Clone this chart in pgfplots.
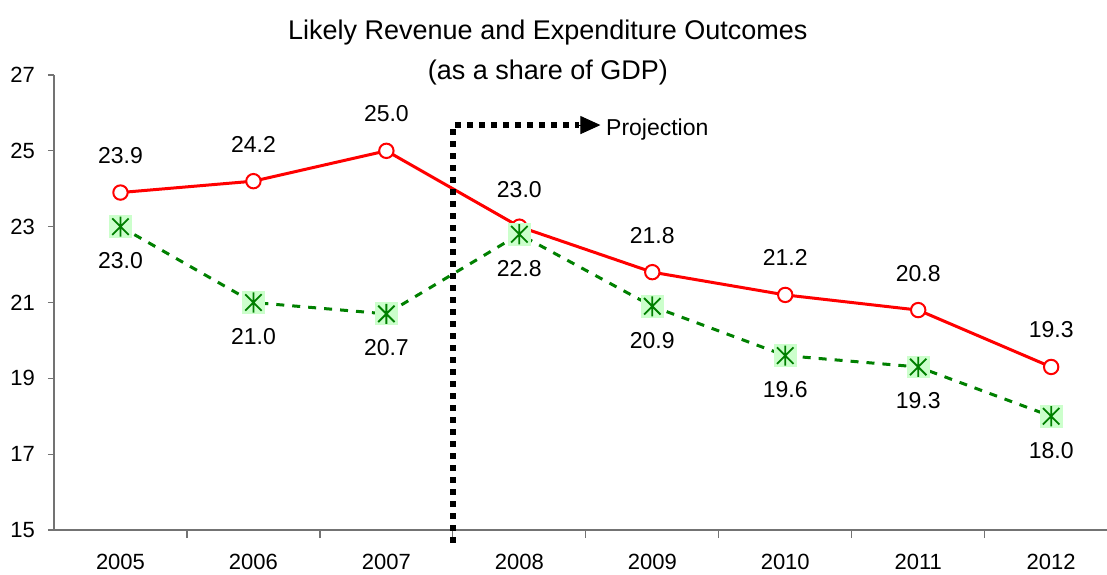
\documentclass[border=0pt]{standalone}
\usepackage{fontspec}
\setmainfont{Liberation Sans}
\usepackage{pgfplots}
\pgfplotsset{compat=1.18}
\usetikzlibrary{arrows.meta}
\definecolor{redl}{RGB}{255,0,0}
\definecolor{greenl}{RGB}{0,128,0}
\definecolor{mkfill}{RGB}{204,255,204}
\pgfdeclareplotmark{boxstar}{%
  \pgfpathrectangle{\pgfpoint{-\pgfplotmarksize}{-\pgfplotmarksize}}{\pgfpoint{2\pgfplotmarksize}{2\pgfplotmarksize}}%
  \pgfsetfillcolor{mkfill}\pgfusepathqfill
  \pgfpathmoveto{\pgfpoint{0pt}{-0.88\pgfplotmarksize}}\pgfpathlineto{\pgfpoint{0pt}{0.88\pgfplotmarksize}}%
  \pgfpathmoveto{\pgfpoint{-0.72\pgfplotmarksize}{-0.72\pgfplotmarksize}}\pgfpathlineto{\pgfpoint{0.72\pgfplotmarksize}{0.72\pgfplotmarksize}}%
  \pgfpathmoveto{\pgfpoint{-0.72\pgfplotmarksize}{0.72\pgfplotmarksize}}\pgfpathlineto{\pgfpoint{0.72\pgfplotmarksize}{-0.72\pgfplotmarksize}}%
  \pgfusepathqstroke
}
\begin{document}
\begin{tikzpicture}
\begin{axis}[
  name=ax,
  scale only axis,
  width=526.5pt, height=227.5pt,
  xmin=-0.5, xmax=7.42,
  ymin=15, ymax=27,
  axis lines*=left,
  axis line style={black!55, line width=0.6pt},
  tick style={black!55, line width=0.6pt},
  tick align=outside,
  tick pos=left,
  xtick={0,...,7},
  xticklabels={2005,2006,2007,2008,2009,2010,2011,2012},
  major x tick style={draw=none},
  minor xtick={0.5,1.5,...,6.5},
  minor tick length=4pt,
  major tick length=3pt,
  ytick={15,17,...,27},
  ticklabel style={font=\fontsize{11}{13}\selectfont},
  xticklabel style={yshift=-5.5pt},
  yticklabel style={xshift=-3pt},
  /pgf/number format/assume math mode=true,
  clip=false,
]
\addplot[redl, line width=1.5pt, mark=*, mark size=3.6pt,
  mark options={fill=white, draw=redl, line width=1pt},
  nodes near coords={\pgfmathprintnumber[fixed,fixed zerofill,precision=1]{\pgfplotspointmeta}},
  every node near coord/.append style={anchor=center, yshift=18.5pt, text=black, font=\fontsize{11.5}{13}\selectfont}]
  coordinates {(0,23.9) (1,24.2) (2,25.0) (3,23.0) (4,21.8) (5,21.2) (6,20.8) (7,19.3)};
\addplot[greenl, line width=1.5pt, dash pattern=on 4pt off 4pt, mark=boxstar, mark size=5.7pt,
  mark options={solid, draw=greenl, line width=0.9pt},
  nodes near coords={\pgfmathprintnumber[fixed,fixed zerofill,precision=1]{\pgfplotspointmeta}},
  every node near coord/.append style={anchor=center, yshift=-17pt, text=black, font=\fontsize{11.5}{13}\selectfont}]
  coordinates {(0,23.0) (1,21.0) (2,20.7) (3,22.8) (4,20.9) (5,19.6) (6,19.3) (7,18.0)};
\draw[black, line width=3pt, dash pattern=on 3pt off 3pt] (axis cs:2.5,14.66) -- (axis cs:2.5,25.68) -- (axis cs:3.45,25.68);
\draw[black, line width=0.5pt, -{Triangle[length=10pt,width=9pt]}] (axis cs:3.44,25.68) -- (axis cs:3.61,25.68);
\node[anchor=west, font=\fontsize{11.5}{13}\selectfont, inner sep=0pt] at (axis cs:3.65,25.57) {Projection};
\node[align=center, font=\fontsize{13.5}{20}\selectfont] at (rel axis cs:0.469,1.05) {Likely Revenue and Expenditure Outcomes\\(as a share of GDP)};
\end{axis}
\pgfresetboundingbox
\path ([xshift=-27pt,yshift=-22pt]ax.south west) rectangle ([yshift=37.5pt]ax.north east);
\end{tikzpicture}
\end{document}
